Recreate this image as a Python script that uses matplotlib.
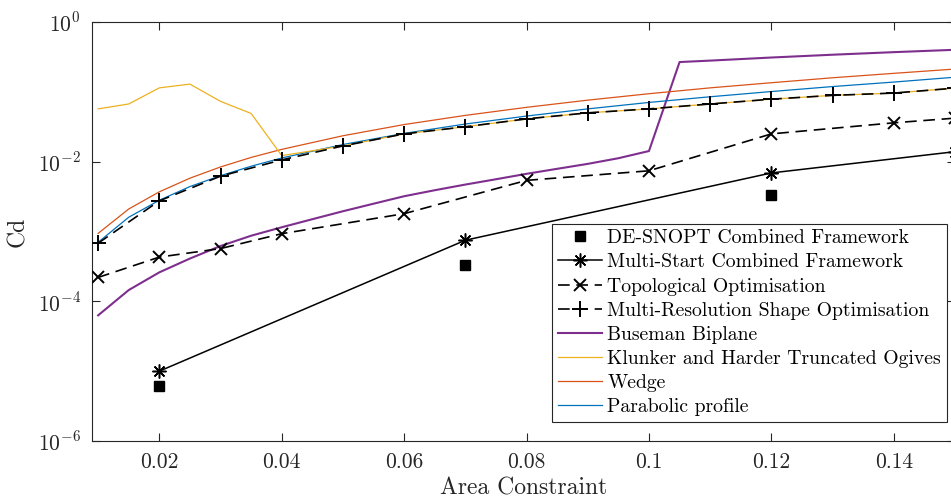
import numpy as np
import matplotlib
matplotlib.use("Agg")
import matplotlib.pyplot as plt

plt.rcParams['font.family'] = 'serif'
plt.rcParams['font.serif'] = ['cmr10']
plt.rcParams['mathtext.fontset'] = 'cm'
plt.rcParams['axes.unicode_minus'] = False
plt.rcParams['axes.formatter.use_mathtext'] = True

# ---------------- data ----------------
de_x = [0.02, 0.07, 0.12]
de_y = [6.2e-6, 3.3e-4, 3.3e-3]

ms_x = [0.02, 0.07, 0.12, 0.15]
ms_y = [1.0e-5, 7.5e-4, 6.9e-3, 0.0139]

topo_x = [0.01, 0.02, 0.03, 0.04, 0.06, 0.08, 0.10, 0.12, 0.14, 0.15]
topo_y = [2.2e-4, 4.3e-4, 5.7e-4, 9.3e-4, 1.8e-3, 5.4e-3, 7.4e-3, 0.025, 0.036, 0.042]

mrso_x = [0.01, 0.02, 0.03, 0.04, 0.05, 0.06, 0.07, 0.08, 0.09, 0.10,
          0.11, 0.12, 0.13, 0.14, 0.15]
mrso_y = [6.8e-4, 2.75e-3, 6.2e-3, 0.0106, 0.0168, 0.025, 0.0316, 0.041,
          0.050, 0.057, 0.067, 0.0785, 0.089, 0.096, 0.113]

bus_x = [0.01, 0.015, 0.02, 0.025, 0.03, 0.035, 0.04, 0.045, 0.05, 0.055,
         0.06, 0.065, 0.07, 0.075, 0.08, 0.085, 0.09, 0.095, 0.10, 0.105,
         0.11, 0.12, 0.13, 0.14, 0.15]
bus_y = [6.3e-5, 1.45e-4, 2.6e-4, 4.1e-4, 6.2e-4, 8.7e-4, 1.15e-3, 1.5e-3,
         1.95e-3, 2.5e-3, 3.2e-3, 3.9e-3, 4.7e-3, 5.6e-3, 6.7e-3, 7.9e-3,
         9.3e-3, 0.0112, 0.0142, 0.267, 0.28, 0.31, 0.34, 0.37, 0.40]

kl_x = [0.01, 0.015, 0.02, 0.025, 0.03, 0.035, 0.04, 0.05, 0.06, 0.07,
        0.08, 0.09, 0.10, 0.11, 0.12, 0.13, 0.14, 0.15]
kl_y = [0.057, 0.067, 0.114, 0.129, 0.073, 0.049, 0.0122, 0.0168, 0.025,
        0.0316, 0.041, 0.050, 0.057, 0.067, 0.0785, 0.089, 0.096, 0.113]

wedge_x = [0.01, 0.015, 0.02, 0.025, 0.03, 0.035, 0.04, 0.05, 0.06, 0.07,
           0.08, 0.09, 0.10, 0.11, 0.12, 0.13, 0.14, 0.15]
wedge_y = [9.4e-4, 2.1e-3, 3.7e-3, 5.8e-3, 8.4e-3, 0.0115, 0.015, 0.0235,
           0.034, 0.046, 0.060, 0.076, 0.094, 0.114, 0.135, 0.159, 0.184, 0.212]

para_x = [0.01, 0.015, 0.02, 0.025, 0.03, 0.035, 0.04, 0.05, 0.06, 0.07,
          0.08, 0.09, 0.10, 0.11, 0.12, 0.13, 0.14, 0.15]
para_y = [7.0e-4, 1.6e-3, 2.8e-3, 4.4e-3, 6.3e-3, 8.6e-3, 0.0113, 0.0176,
          0.0254, 0.0346, 0.045, 0.057, 0.0705, 0.085, 0.101, 0.119, 0.138, 0.162]

xticks = [0.02, 0.04, 0.06, 0.08, 0.1, 0.12, 0.14]
xticklabels = ['0.02', '0.04', '0.06', '0.08', '0.1', '0.12', '0.14']
yticks = [1e-6, 1e-4, 1e-2, 1e0]
yticklabels = [r'$10^{-6}$', r'$10^{-4}$', r'$10^{-2}$', r'$10^{0}$']

# ---------------- plot ----------------
fig = plt.figure(figsize=(9.51, 4.98), dpi=100)
ax = fig.add_axes([92/951, 57/498, (955-92)/951, (441-22)/498])

dash = (0, (7, 4))
h1, = ax.plot(de_x, de_y, linestyle='none', marker='s', color='k',
              markersize=6.5, label='DE-SNOPT Combined Framework', zorder=6)
h2, = ax.plot(ms_x, ms_y, '-', color='k', lw=1.1, marker=(8, 2, 0),
              markersize=10, mew=1.1, label='Multi-Start Combined Framework', zorder=5)
h3, = ax.plot(topo_x, topo_y, color='k', lw=1.2, linestyle=dash, marker='x',
              markersize=8, mew=1.4, label='Topological Optimisation', zorder=5)
h4, = ax.plot(mrso_x, mrso_y, color='k', lw=1.2, linestyle=dash, marker='+',
              markersize=11, mew=1.4, label='Multi-Resolution Shape Optimisation', zorder=5)
h5, = ax.plot(bus_x, bus_y, color='#7E2F8E', lw=1.5, label='Buseman Biplane', zorder=3)
h6, = ax.plot(kl_x, kl_y, color='#EDB120', lw=0.9,
              label='Klunker and Harder Truncated Ogives', zorder=4)
h7, = ax.plot(wedge_x, wedge_y, color='#D95319', lw=0.9, label='Wedge', zorder=3)
h8, = ax.plot(para_x, para_y, color='#0072BD', lw=0.9, label='Parabolic profile', zorder=3)

ax.set_yscale('log')
ax.set_xlim(0.009, 0.15)
ax.set_ylim(1e-6, 1e0)
ax.set_xticks(xticks)
ax.set_xticklabels(xticklabels)
ax.set_yticks(yticks)
ax.set_yticklabels(yticklabels)
ax.yaxis.set_minor_locator(matplotlib.ticker.NullLocator())
ax.tick_params(axis='both', which='major', direction='in', length=6,
               width=0.8, top=True, right=True, labelsize=15.5,
               color='#262626', labelcolor='#262626', pad=8)
for sp in ax.spines.values():
    sp.set_color('#262626')
    sp.set_linewidth(0.8)

ax.set_xlabel('Area Constraint', fontsize=17, color='#262626', labelpad=4)
ax.set_ylabel('Cd', fontsize=17, color='#262626', labelpad=6)

leg = ax.legend(handles=[h1, h2, h3, h4, h5, h6, h7, h8],
                loc='lower right',
                bbox_to_anchor=(947/951, (498-422)/498),
                bbox_transform=fig.transFigure, fontsize=14.2, frameon=True,
                fancybox=False, edgecolor='#262626', framealpha=1,
                handlelength=2.2, handletextpad=0.3, labelspacing=0.31,
                borderpad=0.3, borderaxespad=0.0)
leg.get_frame().set_linewidth(0.8)

fig.savefig('out.png', dpi=100)
